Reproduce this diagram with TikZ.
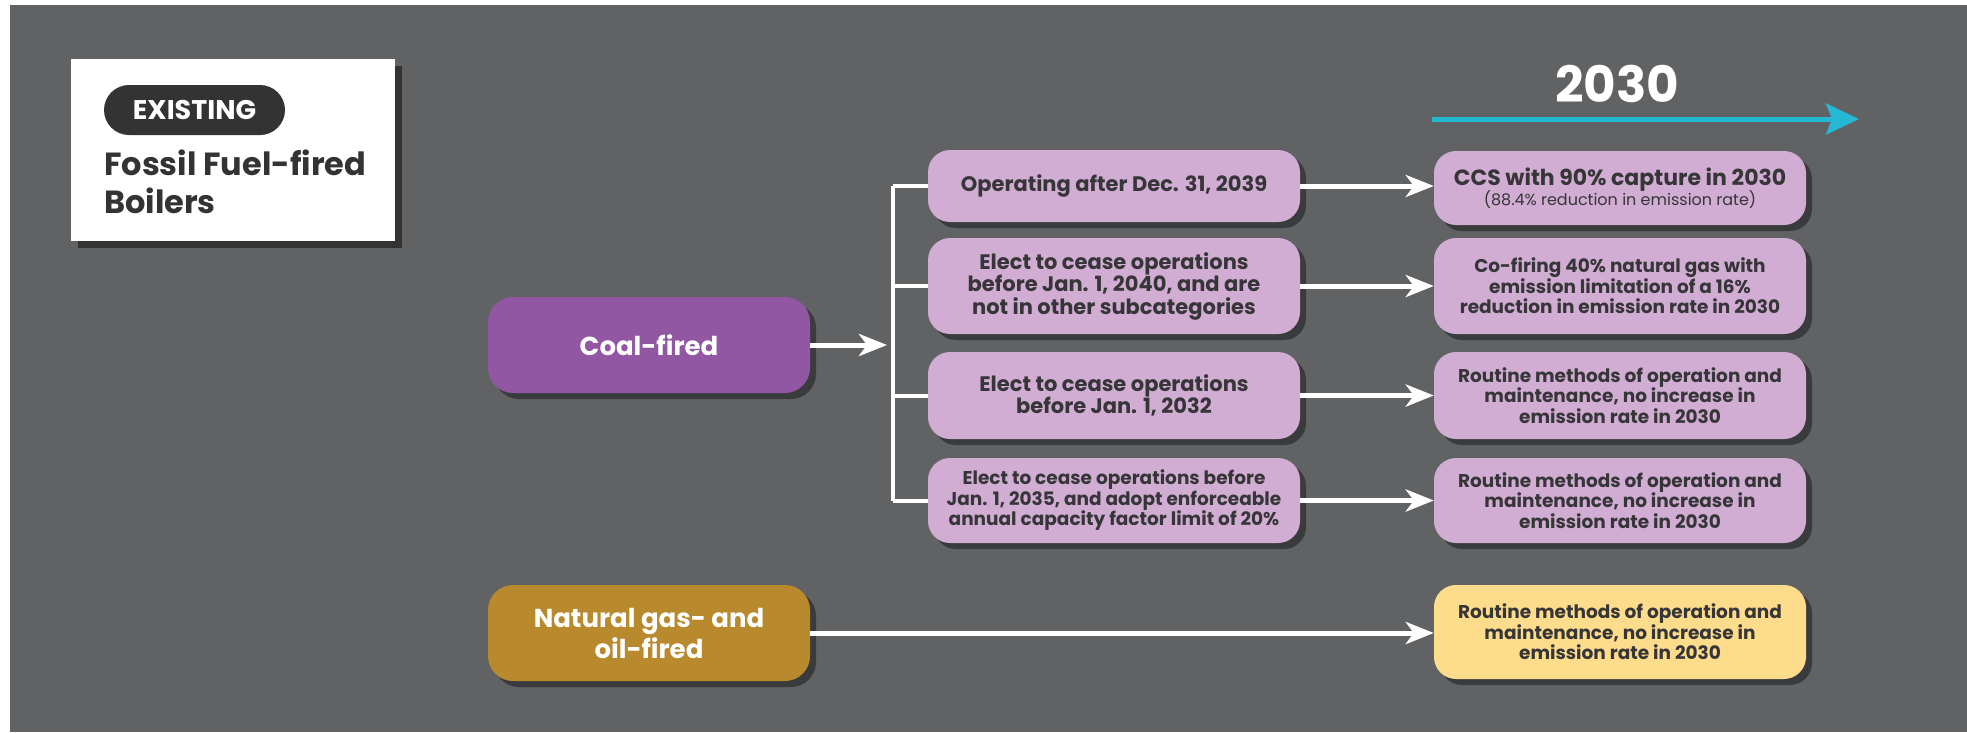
\documentclass[tikz,border=0pt]{standalone}
\usepackage{fontspec}
\setmainfont{Poppins}
\usetikzlibrary{arrows.meta,shadows}
\definecolor{bg}{HTML}{616264}
\definecolor{shd}{HTML}{3A3B3D}
\definecolor{txt}{HTML}{363537}
\definecolor{lpurple}{HTML}{D1ADD4}
\definecolor{dpurple}{HTML}{9157A2}
\definecolor{gold}{HTML}{B9892E}
\definecolor{lyellow}{HTML}{FDDC8B}
\definecolor{cyan}{HTML}{25B8D4}
\definecolor{pill}{HTML}{333333}
\tikzset{
  shadowed/.style={drop shadow={shadow xshift=6pt, shadow yshift=-6pt, fill=shd, opacity=1}},
  midbox/.style={shadowed, fill=lpurple, rounded corners=22pt, minimum width=372pt, text=txt, align=center, inner sep=0pt, font=\bfseries\fontsize{21}{22.5}\selectfont},
  rightbox/.style={midbox, font=\bfseries\fontsize{18.5}{20.5}\selectfont},
  catbox/.style={shadowed, rounded corners=25pt, minimum width=322pt, minimum height=96pt, text=white, align=center, inner sep=0pt, font=\bfseries\fontsize{26}{31}\selectfont},
  flow/.style={white, line width=5pt, -{Stealth[length=28pt, width=22pt, inset=8pt]}},
  plain/.style={white, line width=4pt}
}
\begin{document}
\begin{tikzpicture}[x=1pt,y=-1pt]
\useasboundingbox (0,0) rectangle (1967,732);
\fill[white] (0,0) rectangle (1967,732);
\fill[bg] (10,5) rectangle (1967,732);
% title card
\fill[pill] (78,66) rectangle (402,248);
\node[fill=white, minimum width=324pt, minimum height=182pt, inner sep=0pt] (card) at (233,150) {};
\node[fill=pill, rounded corners=25pt, minimum width=181pt, minimum height=50pt, inner sep=0pt, text=white, font=\bfseries\fontsize{27}{27}\selectfont] (existing) at (194.5,110) {EXISTING};
\node[anchor=base west, inner sep=0pt, text=pill, align=left, font=\bfseries\fontsize{32}{38}\selectfont] (title) at (104,213) {Fossil Fuel-fired\\Boilers};
% timeline
\node[anchor=base, inner sep=0pt, text=white, font=\bfseries\fontsize{50}{50}\selectfont] (year) at (1617,102) {2030};
\coordinate (tl0) at (1432,119);
\coordinate (tl1) at (1859,119);
\draw[cyan, line width=5pt, -{Stealth[length=33pt, width=31pt, inset=6pt]}] (tl0) -- (tl1);
% categories
\node[catbox, fill=dpurple] (coal) at (649,345) {Coal-fired};
\node[catbox, fill=gold] (gas) at (649,633) {Natural gas- and\\oil-fired};
% middle boxes
\node[midbox, minimum height=72pt] (m1) at (1114,186) {Operating after Dec. 31, 2039};
\node[midbox, minimum height=96pt] (m2) at (1114,286) {Elect to cease operations\\before Jan. 1, 2040, and are\\not in other subcategories};
\node[midbox, minimum height=87pt] (m3) at (1114,395.5) {Elect to cease operations\\before Jan. 1, 2032};
\node[midbox, minimum height=85pt, font=\bfseries\fontsize{18.5}{20.5}\selectfont] (m4) at (1114,500.5) {Elect to cease operations before\\Jan. 1, 2035, and adopt enforceable\\annual capacity factor limit of 20\%};
% right boxes
\node[rightbox, minimum height=74pt] (r1) at (1620,188) {{\fontsize{22}{24}\selectfont CCS with 90\% capture in 2030}\\[-2pt]{\mdseries\fontsize{16}{18}\selectfont (88.4\% reduction in emission rate)}};
\node[rightbox, minimum height=96pt] (r2) at (1620,286) {Co-firing 40\% natural gas with\\emission limitation of a 16\%\\reduction in emission rate in 2030};
\node[rightbox, minimum height=87pt] (r3) at (1620,395.5) {Routine methods of operation and\\maintenance, no increase in\\emission rate in 2030};
\node[rightbox, minimum height=85pt] (r4) at (1620,500.5) {Routine methods of operation and\\maintenance, no increase in\\emission rate in 2030};
\node[rightbox, fill=lyellow, minimum height=94pt] (r5) at (1620,632) {Routine methods of operation and\\maintenance, no increase in\\emission rate in 2030};
% connectors
\coordinate (vtop) at (893,186);
\coordinate (vbot) at (893,500.5);
\coordinate (junc) at (887,345);
\draw[plain] (vtop) -- (vbot);
\draw[flow] (coal.east) -- (junc);
\draw[plain] (vtop) -- (m1.west);
\draw[plain] (vtop |- m2.west) -- (m2.west);
\draw[plain] (vtop |- m3.west) -- (m3.west);
\draw[plain] (vbot) -- (m4.west);
\draw[flow] (m1.east) -- (m1.east -| r1.west);
\draw[flow] (m2.east) -- (r2.west);
\draw[flow] (m3.east) -- (r3.west);
\draw[flow] (m4.east) -- (r4.west);
\draw[flow] (gas.east) -- (gas.east -| r5.west);
\end{tikzpicture}
\end{document}
